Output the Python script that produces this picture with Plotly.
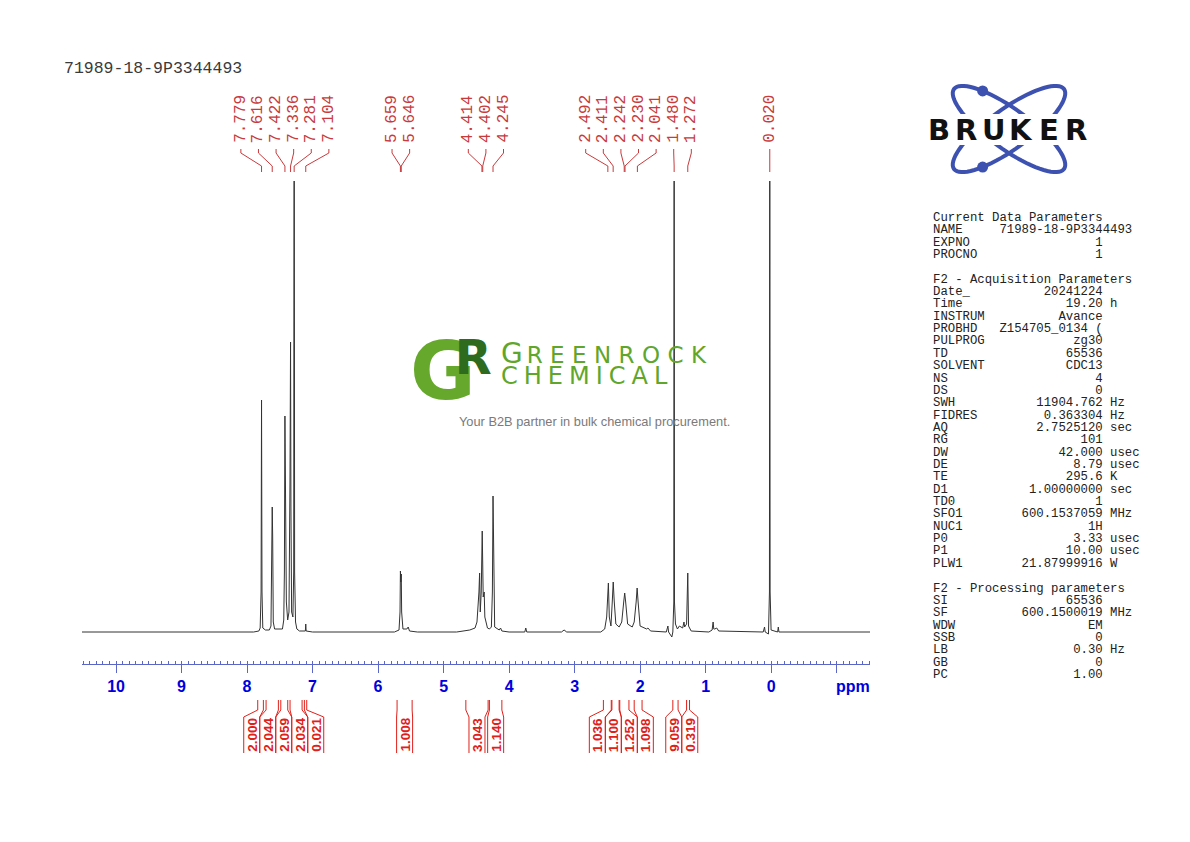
import math
import plotly.graph_objs as go

# ---- spectrum trace (ppm, intensity in px above baseline) ----
edge_ppm = [10.52, -1.51]
edge_int = [0, 0]

aro_ppm = [7.90, 7.82, 7.80, 7.786, 7.779, 7.772, 7.76, 7.72, 7.66, 7.635, 7.623, 7.616,
           7.609, 7.60, 7.58, 7.46, 7.44, 7.43, 7.422, 7.415, 7.408, 7.40, 7.38, 7.36,
           7.345, 7.336, 7.33, 7.32, 7.30, 7.288, 7.281, 7.274, 7.26, 7.24, 7.20, 7.11,
           7.104, 7.098, 7.00]
aro_int = [0, 1, 4, 40, 232, 40, 4, 2, 2, 6, 90, 125,
           95, 10, 3, 3, 12, 60, 216, 110, 124, 30, 12, 20,
           150, 290, 124, 20, 15, 60, 620, 60, 10, 3, 1, 1,
           8, 1, 0]

olefin_ppm = [5.75, 5.68, 5.665, 5.659, 5.652, 5.646, 5.64, 5.62, 5.56, 5.54, 5.52, 5.40]
olefin_int = [0, 2, 20, 61, 50, 58, 20, 3, 3, 5, 1, 0]

oxy_ppm = [4.80, 4.70, 4.60, 4.52, 4.49, 4.46, 4.45, 4.44, 4.425, 4.41, 4.395, 4.38, 4.37,
           4.33, 4.30, 4.27, 4.255, 4.245, 4.235, 4.22, 4.15, 4.13, 4.11, 4.00, 3.76,
           3.745, 3.73, 3.20, 3.16, 3.12]
oxy_int = [0, 1, 2, 4, 10, 40, 59, 20, 40, 101, 35, 40, 15,
           4, 3, 5, 40, 136, 40, 5, 2, 4, 1, 0, 0,
           4, 0, 0, 2, 0]

aliph_ppm = [2.60, 2.54, 2.51, 2.50, 2.484, 2.47, 2.445, 2.425, 2.41, 2.395, 2.37, 2.32,
             2.28, 2.25, 2.235, 2.22, 2.19, 2.12, 2.09, 2.06, 2.045, 2.03, 2.00, 1.90,
             1.88, 1.84, 1.60, 1.575, 1.565, 1.515, 1.50, 1.485, 1.480, 1.475, 1.46,
             1.43, 1.40, 1.35, 1.33, 1.32, 1.29, 1.272, 1.26, 1.22]
aliph_int = [0, 3, 15, 30, 49, 15, 6, 30, 50, 31, 8, 5,
             10, 30, 39, 30, 8, 5, 10, 30, 44, 30, 6, 3,
             4, 1, 0, 6, 0, -5, 0, 30, 700, 30, 8,
             3, 6, 4, 10, 5, 8, 59, 6, 1]

tms_ppm = [0.95, 0.90, 0.885, 0.875, 0.86, 0.83, 0.80, 0.12, 0.10, 0.09, 0.04, 0.025,
           0.020, 0.015, 0.0, -0.10, -0.11, -0.12]
tms_int = [0, 2, 10, 3, 3, 4, 1, 0, 5, 0, -2, 40,
           600, 40, 2, 0, 5, 0]

# ---- peak picking and integrals ----
peak_ppm = [7.779, 7.616, 7.422, 7.336, 7.281, 7.104, 5.659, 5.646, 4.414, 4.402, 4.245,
            2.492, 2.411, 2.242, 2.230, 2.041, 1.480, 1.272, 0.020]

int_values = ["2.000", "2.044", "2.059", "2.034", "0.021", "1.008", "3.043", "1.140",
              "1.036", "1.100", "1.252", "1.098", "9.059", "0.319"]
int_start = [7.837, 7.710, 7.485, 7.344, 7.125, 5.71, 4.66, 4.30, 2.56, 2.43, 2.31, 2.09, 1.50, 1.29]
int_end = [7.751, 7.522, 7.379, 7.160, 7.089, 5.48, 4.32, 4.11, 2.44, 2.32, 2.17, 1.97, 1.42, 1.245]

tick_ppm = list(range(-1, 11))

# ---- acquisition parameters block ----
sec1_title = "Current Data Parameters"
sec1_keys = ["NAME", "EXPNO", "PROCNO"]
sec1_vals = ["71989-18-9P3344493", "1", "1"]
sec1_units = ["", "", ""]

sec2_title = "F2 - Acquisition Parameters"
sec2_keys = ["Date_", "Time", "INSTRUM", "PROBHD", "PULPROG", "TD", "SOLVENT", "NS", "DS",
             "SWH", "FIDRES", "AQ", "RG", "DW", "DE", "TE", "D1", "TD0", "SFO1", "NUC1",
             "P0", "P1", "PLW1"]
sec2_vals = ["20241224", "19.20", "Avance", "Z154705_0134 (", "zg30", "65536", "CDC13", "4",
             "0", "11904.762", "0.363304", "2.7525120", "101", "42.000", "8.79", "295.6",
             "1.00000000", "1", "600.1537059", "1H", "3.33", "10.00", "21.87999916"]
sec2_units = ["", "h", "", "", "", "", "", "", "", "Hz", "Hz", "sec", "", "usec", "usec",
              "K", "sec", "", "MHz", "", "usec", "usec", "W"]

sec3_title = "F2 - Processing parameters"
sec3_keys = ["SI", "SF", "WDW", "SSB", "LB", "GB", "PC"]
sec3_vals = ["65536", "600.1500019", "EM", "0", "0.30", "0", "1.00"]
sec3_units = ["", "MHz", "", "", "Hz", "", ""]

sample_name = "71989-18-9P3344493"

# ---- page geometry (px) ----
W, H = 1190, 842
X_LEFT, X_RIGHT = 82, 870
PPM_LEFT, PPM_RIGHT = 10.52, -1.51
Y_AXIS, Y_TOP, Y_BASE = 664, 181, 632

MONO = "Liberation Mono, Courier New, monospace"
SANS = "Liberation Sans, Arial, sans-serif"
RED_PEAK = "#c83a3c"
RED_INT = "#e0201a"
BLUE_TXT = "#0000dd"
BLUE_AX = "#5a66c8"
GREEN = "#5fa62a"


def ppm_px(p):
    return X_LEFT + (PPM_LEFT - p) / (PPM_LEFT - PPM_RIGHT) * (X_RIGHT - X_LEFT)


def px(x):
    return x / W


def py(y):
    return 1 - y / H


def label(text, x, y, font, angle=0, xanchor="center"):
    return dict(text=text, x=px(x), y=py(y), xref="paper", yref="paper",
                xanchor=xanchor, yanchor="middle", textangle=angle,
                showarrow=False, font=font)


def spread(centers, gap):
    # push labels apart so neighbours are at least `gap` px apart, clusters centred on their mean
    groups = [[c] for c in centers]
    changed = True
    while changed:
        changed = False
        for i in range(len(groups) - 1):
            a, b = groups[i], groups[i + 1]
            ca = sum(a) / len(a)
            cb = sum(b) / len(b)
            a_last = ca + (len(a) - 1) / 2 * gap
            b_first = cb - (len(b) - 1) / 2 * gap
            if b_first - a_last < gap:
                groups[i] = a + b
                del groups[i + 1]
                changed = True
                break
    out = []
    for g in groups:
        c = sum(g) / len(g)
        for k in range(len(g)):
            out.append(c + (k - (len(g) - 1) / 2) * gap)
    return out


# assemble the trace
spec_ppm = [edge_ppm[0]] + aro_ppm + olefin_ppm + oxy_ppm + aliph_ppm + tms_ppm + [edge_ppm[1]]
spec_int = [edge_int[0]] + aro_int + olefin_int + oxy_int + aliph_int + tms_int + [edge_int[1]]

fig = go.Figure()
fig.add_trace(go.Scatter(x=spec_ppm, y=spec_int, mode="lines",
                         line=dict(color="#333333", width=1), hoverinfo="skip"))

fig.update_layout(
    autosize=False,
    width=W,
    height=H,
    margin=dict(l=0, r=0, b=0, t=0, pad=0),
    paper_bgcolor="white",
    plot_bgcolor="white",
    showlegend=False,
)
fig.update_xaxes(
    range=[PPM_LEFT, PPM_RIGHT],
    domain=[px(X_LEFT), px(X_RIGHT)],
    showline=True, linecolor=BLUE_AX, linewidth=1,
    showgrid=False, zeroline=False,
    ticks="outside", ticklen=8, tickcolor=BLUE_AX, tickwidth=1,
    tickmode="array",
    tickvals=tick_ppm,
    ticktext=["" if t < 0 else str(t) for t in tick_ppm],
    tickfont=dict(family=SANS, size=16, color=BLUE_TXT, weight="bold"),
    minor=dict(ticks="inside", ticklen=3, dtick=0.1, tick0=0, tickcolor=BLUE_AX, showgrid=False),
)
fig.update_yaxes(visible=False, range=[Y_BASE - Y_AXIS, Y_BASE - Y_TOP],
                 domain=[py(Y_AXIS), py(Y_TOP)])

annotations = []
shapes = []

annotations.append(label("ppm", 853, 686, dict(family=SANS, size=16, color=BLUE_TXT, weight="bold")))
annotations.append(label(sample_name, 62, 68, dict(family=MONO, size=16.5, color="#3a3a3a"),
                         xanchor="left"))

# peak labels with leader lines
peak_px = [ppm_px(p) for p in peak_ppm]
label_px = spread(peak_px, 17.6)
for p, x_pk, x_lb in zip(peak_ppm, peak_px, label_px):
    annotations.append(label(f"{p:.3f}", x_lb, 119, dict(family=MONO, size=16, color=RED_PEAK),
                             angle=-90))
    shapes.append(dict(type="path", xref="paper", yref="paper",
                       path=f"M {px(x_lb)},{py(149)} L {px(x_lb)},{py(153)} "
                            f"L {px(x_pk)},{py(166)} L {px(x_pk)},{py(172)}",
                       line=dict(color=RED_PEAK, width=1)))

# integral brackets
mid_px = [(ppm_px(a) + ppm_px(b)) / 2 for a, b in zip(int_start, int_end)]
box_px = spread(mid_px, 16)
hw = 8
for val, a, b, c in zip(int_values, int_start, int_end, box_px):
    for edge, side in ((ppm_px(a), c - hw), (ppm_px(b), c + hw)):
        shapes.append(dict(type="path", xref="paper", yref="paper",
                           path=f"M {px(edge)},{py(700)} L {px(edge)},{py(710)} "
                                f"L {px(side)},{py(717)} L {px(side)},{py(753)}",
                           line=dict(color=RED_INT, width=1)))
    annotations.append(label(val, c, 735, dict(family=SANS, size=13.5, color=RED_INT, weight="bold"),
                             angle=-90))

# parameter block
lines = [sec1_title]
sections = [(sec1_keys, sec1_vals, sec1_units), (sec2_keys, sec2_vals, sec2_units),
            (sec3_keys, sec3_vals, sec3_units)]
titles = [None, sec2_title, sec3_title]
for title, (keys, vals, units) in zip(titles, sections):
    if title:
        lines += ["", title]
    for k, v, u in zip(keys, vals, units):
        row = k.ljust(9) + v.rjust(14)
        if u:
            row += " " + u
        lines.append(row)
for i, row in enumerate(lines):
    if not row:
        continue
    annotations.append(label(row.replace(" ", "\u00a0"), 931, 218 + i * 12.35,
                             dict(family=MONO, size=12.3, color="#222222"), xanchor="left"))

# Bruker logo
cx, cy, ea, eb = 1009, 129, 68, 20
for sgn in (1, -1):
    th = math.radians(36) * sgn
    pts = []
    for k in range(73):
        t = 2 * math.pi * k / 72
        x = cx + ea * math.cos(t) * math.cos(th) - eb * math.sin(t) * math.sin(th)
        y = cy + ea * math.cos(t) * math.sin(th) + eb * math.sin(t) * math.cos(th)
        pts.append(f"{px(x)},{py(y)}")
    shapes.append(dict(type="path", xref="paper", yref="paper",
                       path="M " + " L ".join(pts) + " Z", line=dict(color="#3d52b0", width=4)))
    t = math.radians(230)
    th1 = math.radians(36)
    dx = cx + ea * math.cos(t) * math.cos(th1) - eb * math.sin(t) * math.sin(th1)
    dy = cy + ea * math.cos(t) * math.sin(th1) + eb * math.sin(t) * math.cos(th1)
    if sgn < 0:
        dy = 2 * cy - dy
    shapes.append(dict(type="circle", xref="paper", yref="paper",
                       x0=px(dx - 5.5), x1=px(dx + 5.5), y0=py(dy - 5.5), y1=py(dy + 5.5),
                       fillcolor="#3d52b0", line=dict(width=0)))
shapes.append(dict(type="rect", xref="paper", yref="paper", x0=px(922), x1=px(1094),
                   y0=py(145), y1=py(114), fillcolor="white", line=dict(width=0)))
for k, ch in enumerate("BRUKER"):
    annotations.append(label(ch, 939 + k * 27.4, 130,
                             dict(family="DejaVu Sans", size=29, color="#111111", weight="bold")))

# Greenrock watermark
gr_mark = ("<span style='color:#66a82c;letter-spacing:-21px'>G</span>"
           "<span style='color:#2e6b1f;font-size:48px;baseline-shift:25px'>R</span>")
annotations.append(label(gr_mark, 408, 372,
                         dict(family="DejaVu Sans", size=80, color="#66a82c", weight="bold"),
                         xanchor="left"))
word_mark = ("<span style='font-size:28px;letter-spacing:4px'>G</span>"
             "<span style='font-size:23px;letter-spacing:7.4px'>REENROCK</span><br>"
             "<span style='font-size:24px;letter-spacing:6px'>CHEMICAL</span>")
annotations.append(dict(text=word_mark, x=px(499), y=py(363), xref="paper", yref="paper",
                        xanchor="left", yanchor="middle", align="left", showarrow=False,
                        font=dict(family="DejaVu Sans", size=16, color=GREEN)))
annotations.append(label("Your B2B partner in bulk chemical procurement.", 594, 421,
                         dict(family=SANS, size=12.8, color="#7a7a7a")))

fig.update_layout(annotations=annotations, shapes=shapes)

fig.write_html("out.html", config={"displayModeBar": False},
               post_script="document.body.style.margin='0';")
